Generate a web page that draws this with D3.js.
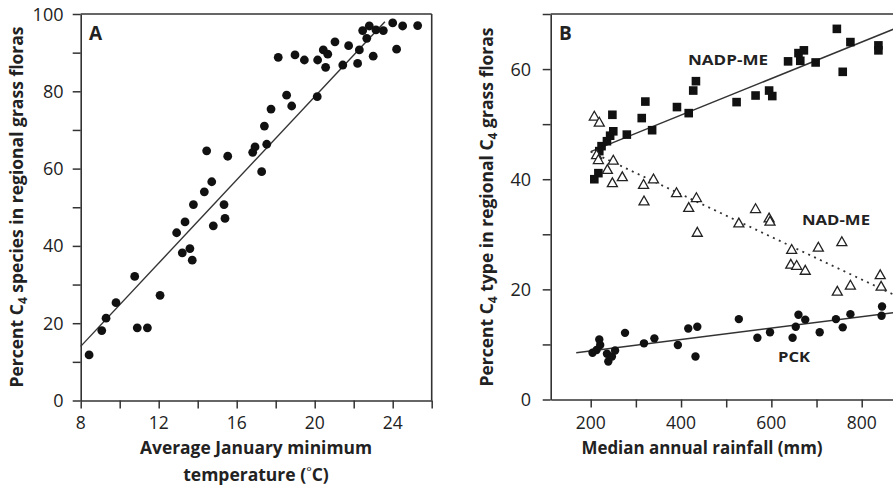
<!DOCTYPE html>
<html><head><meta charset="utf-8">
<script src="https://cdn.jsdelivr.net/npm/d3@7"></script>
<style>
html,body{margin:0;padding:0;background:#fff;}
svg{display:block;}
text{font-family:"Open Sans",sans-serif;fill:#222;}
</style></head>
<body>
<svg id="chart" width="893" height="493"></svg>
<script>
// ---------- Panel A data ----------
const tempA = [8.43,9.08,9.3,9.81,10.77,10.9,11.42,12.07,12.92,13.21,13.35,13.6,13.72,13.78,14.34,14.46,14.72,14.8,15.35,15.4,15.54,16.82,16.94,17.28,17.42,17.54,17.76,18.13,18.56,18.82,18.99,19.47,20.13,20.15,20.44,20.56,20.67,21.04,21.44,21.74,22.2,22.29,22.46,22.67,22.8,23.0,23.14,23.52,24.0,24.2,24.51,25.28];
const pctA = [11.8,18.1,21.3,25.3,32.1,18.8,18.8,27.2,43.4,38.2,46.2,39.3,36.3,50.7,54.0,64.6,56.6,45.2,50.7,47.1,63.2,64.2,65.6,59.2,71.0,66.3,75.4,88.8,79.0,76.2,89.4,88.1,78.6,88.1,90.7,86.2,89.6,92.8,86.8,91.8,87.2,90.7,95.7,93.7,96.9,89.1,95.9,95.7,97.7,90.9,96.9,97.0];
const fitA = [[8,14.0],[23.6,98.0]];
const xTicksA = [8,10,12,14,16,18,20,22,24,26];
const xLabelsA = [8,12,16,20,24];
const yTicksA = [0,10,20,30,40,50,60,70,80,90,100];
const yLabelsA = [0,20,40,60,80,100];

// ---------- Panel B data ----------
const nadpRain = [208,217,219,224,236,243,250,248,280,313,321,336,391,417,427,433,523,565,595,602,637,660,664,672,698,745,758,775,837,837];
const nadpPct  = [40.0,41.1,45.1,46.0,46.9,47.9,48.7,51.7,48.1,51.1,54.1,48.9,53.1,52.0,56.1,57.8,54.0,55.2,56.1,55.1,61.4,62.9,61.5,63.4,61.2,67.3,59.5,64.9,64.3,63.4];
const nadRain = [208,219,213,217,250,237,248,270,317,339,318,390,417,434,436,528,565,595,597,645,643,656,675,704,756,746,775,841,843];
const nadPct  = [51.4,50.3,44.4,43.5,43.4,41.7,39.3,40.4,39.0,40.0,36.0,37.5,34.8,36.6,30.3,32.0,34.6,32.9,32.3,27.2,24.5,24.3,23.4,27.6,28.6,19.6,20.7,22.6,20.5];
const pckRain = [204,213,219,221,236,239,247,254,276,318,341,393,416,436,432,528,569,597,647,654,660,675,707,743,758,775,845,844];
const pckPct  = [8.5,9.0,10.9,9.9,8.3,6.9,7.8,8.9,12.1,10.2,11.1,9.9,12.9,13.2,7.8,14.6,11.2,12.2,11.2,13.2,15.4,14.5,12.2,14.6,13.1,15.5,16.9,15.2];
const nadpFit = [[200,45.0],[872,67.3]];
const nadFit  = [[200,45.0],[872,19.0]];
const pckFit  = [[168,8.5],[872,15.8]];
const xTicksB = [200,300,400,500,600,700,800,900];
const xLabelsB = [200,400,600,800];
const yTicksB = [0,10,20,30,40,50,60,70];
const yLabelsB = [0,20,40,60];
const seriesLabels = [{t:"NADP-ME",x:688,y:65,w:80},{t:"NAD-ME",x:802,y:225,w:68},{t:"PCK",x:778,y:362,w:32}];

const svg = d3.select("#chart");
const AX = "#333";
const INK = "#111";

// Scales
const xA = d3.scaleLinear().domain([8,26]).range([80.7,431.7]);
const yA = d3.scaleLinear().domain([0,100]).range([400.5,14]);
const xB = d3.scaleLinear().domain([200,800]).range([590.7,861.7]);
const yB = d3.scaleLinear().domain([0,70]).range([399.5,14]);
const xB0 = xB.invert(550.7);

function styleAxis(g){
  g.selectAll("path").attr("stroke",AX).attr("stroke-width",1.6);
  g.selectAll("line").attr("stroke",AX).attr("stroke-width",1.5);
  g.selectAll("text").remove();
}

// ---------- Panel A ----------
const gA = svg.append("g");
gA.append("g").attr("transform","translate(0,400.5)")
  .call(d3.axisBottom(xA).tickValues(xTicksA).tickSize(8).tickSizeOuter(0)).call(styleAxis);
gA.append("g").attr("transform","translate(80.7,0)")
  .call(d3.axisLeft(yA).tickValues(yTicksA).tickSize(8).tickSizeOuter(0)).call(styleAxis);
gA.append("line").attr("x1",xA(8)).attr("x2",xA(26)).attr("y1",yA(100)).attr("y2",yA(100)).attr("stroke",AX).attr("stroke-width",1.6);
gA.append("line").attr("x1",xA(26)).attr("x2",xA(26)).attr("y1",yA(100)).attr("y2",yA(0)).attr("stroke",AX).attr("stroke-width",1.6);
gA.selectAll(".xl").data(xLabelsA).enter().append("text")
  .attr("x",d=>xA(d)).attr("y",429).attr("text-anchor","middle").attr("font-size",17.5).text(d=>d);
gA.selectAll(".yl").data(yLabelsA).enter().append("text")
  .attr("x",63.5).attr("y",d=>yA(d)+6.5).attr("text-anchor","end").attr("font-size",18).text(d=>d);
gA.append("line").attr("x1",xA(fitA[0][0])).attr("y1",yA(fitA[0][1])).attr("x2",xA(fitA[1][0])).attr("y2",yA(fitA[1][1]))
  .attr("stroke","#333").attr("stroke-width",1.4);
gA.selectAll(".pa").data(tempA.map((t,i)=>[t,pctA[i]])).enter().append("circle")
  .attr("cx",d=>xA(d[0])).attr("cy",d=>yA(d[1])).attr("r",4.4).attr("fill",INK);
gA.append("text").attr("x",89).attr("y",39.5).attr("font-size",19).attr("font-weight","bold").text("A");
gA.append("text").attr("x",256).attr("y",454).attr("text-anchor","middle").attr("font-size",17.5).attr("font-weight","bold")
  .attr("textLength",232).attr("lengthAdjust","spacingAndGlyphs").text("Average January minimum");
const t2 = gA.append("text").attr("x",256).attr("y",481).attr("text-anchor","middle").attr("font-size",17.5).attr("font-weight","bold");
t2.append("tspan").text("temperature (");
t2.append("tspan").attr("font-weight","normal").attr("font-size",13).attr("dy",-5).text("°");
t2.append("tspan").attr("dy",5).text("C)");
const ytA = gA.append("text").attr("transform","translate(23,207) rotate(-90)").attr("text-anchor","middle")
  .attr("font-size",17.5).attr("font-weight","bold");
ytA.append("tspan").text("Percent C");
ytA.append("tspan").attr("font-size",12).attr("dy",4).text("4");
ytA.append("tspan").attr("dy",-4).text(" species in regional grass floras");

// ---------- Panel B ----------
const gB = svg.append("g");
const clip = svg.append("defs").append("clipPath").attr("id","clipB");
clip.append("rect").attr("x",550).attr("y",0).attr("width",400).attr("height",400);
gB.append("g").attr("transform","translate(0,399.5)")
  .call(d3.axisBottom(xB.copy().domain([xB0, xB.invert(920)]).range([550.7,920])).tickValues(xTicksB).tickSize(8).tickSizeOuter(0)).call(styleAxis);
gB.append("g").attr("transform","translate(550.7,0)")
  .call(d3.axisLeft(yB).tickValues(yTicksB).tickSize(8).tickSizeOuter(0)).call(styleAxis);
gB.append("line").attr("x1",550.7).attr("x2",893).attr("y1",yB(70)).attr("y2",yB(70)).attr("stroke",AX).attr("stroke-width",1.6);
gB.selectAll(".xl").data(xLabelsB).enter().append("text")
  .attr("x",d=>xB(d)).attr("y",429).attr("text-anchor","middle").attr("font-size",17.5).text(d=>d);
gB.selectAll(".yl").data(yLabelsB).enter().append("text")
  .attr("x",531).attr("y",d=>yB(d)+6.5).attr("text-anchor","end").attr("font-size",18).text(d=>d);
const fits = gB.append("g").attr("clip-path","url(#clipB)");
function fitLine(f, dash){
  fits.append("line").attr("x1",xB(f[0][0])).attr("y1",yB(f[0][1])).attr("x2",xB(f[1][0])).attr("y2",yB(f[1][1]))
    .attr("stroke","#333").attr("stroke-width",dash?1.8:1.5).attr("stroke-dasharray",dash?"2,4.5":null);
}
fitLine(nadpFit,false); fitLine(nadFit,true); fitLine(pckFit,false);
const sq = 8.6;
gB.selectAll(".sq").data(nadpRain.map((r,i)=>[r,nadpPct[i]])).enter().append("rect")
  .attr("x",d=>xB(d[0])-sq/2).attr("y",d=>yB(d[1])-sq/2).attr("width",sq).attr("height",sq).attr("fill",INK);
gB.selectAll(".tri").data(nadRain.map((r,i)=>[r,nadPct[i]])).enter().append("path")
  .attr("d",d=>{const cx=xB(d[0]),cy=yB(d[1]);return `M${cx},${cy-5.2}L${cx+5},${cy+3.6}L${cx-5},${cy+3.6}Z`;})
  .attr("fill","#fff").attr("stroke","#222").attr("stroke-width",1.3).attr("stroke-linejoin","miter");
gB.selectAll(".pc").data(pckRain.map((r,i)=>[r,pckPct[i]])).enter().append("circle")
  .attr("cx",d=>xB(d[0])).attr("cy",d=>yB(d[1])).attr("r",4.2).attr("fill",INK);
gB.selectAll(".sl").data(seriesLabels).enter().append("text")
  .attr("x",d=>d.x).attr("y",d=>d.y).attr("font-size",14).attr("font-weight","bold")
  .attr("textLength",d=>d.w).attr("lengthAdjust","spacingAndGlyphs").text(d=>d.t);
gB.append("text").attr("x",559).attr("y",39.5).attr("font-size",19).attr("font-weight","bold").text("B");
gB.append("text").attr("x",702).attr("y",454).attr("text-anchor","middle").attr("font-size",17.5).attr("font-weight","bold")
  .attr("textLength",241).attr("lengthAdjust","spacingAndGlyphs").text("Median annual rainfall (mm)");
const ytB = gB.append("text").attr("transform","translate(493,207) rotate(-90)").attr("text-anchor","middle")
  .attr("font-size",17.5).attr("font-weight","bold");
ytB.append("tspan").text("Percent C");
ytB.append("tspan").attr("font-size",12).attr("dy",4).text("4");
ytB.append("tspan").attr("dy",-4).text(" type in regional C");
ytB.append("tspan").attr("font-size",12).attr("dy",4).text("4");
ytB.append("tspan").attr("dy",-4).text(" grass floras");
</script>
</body></html>
